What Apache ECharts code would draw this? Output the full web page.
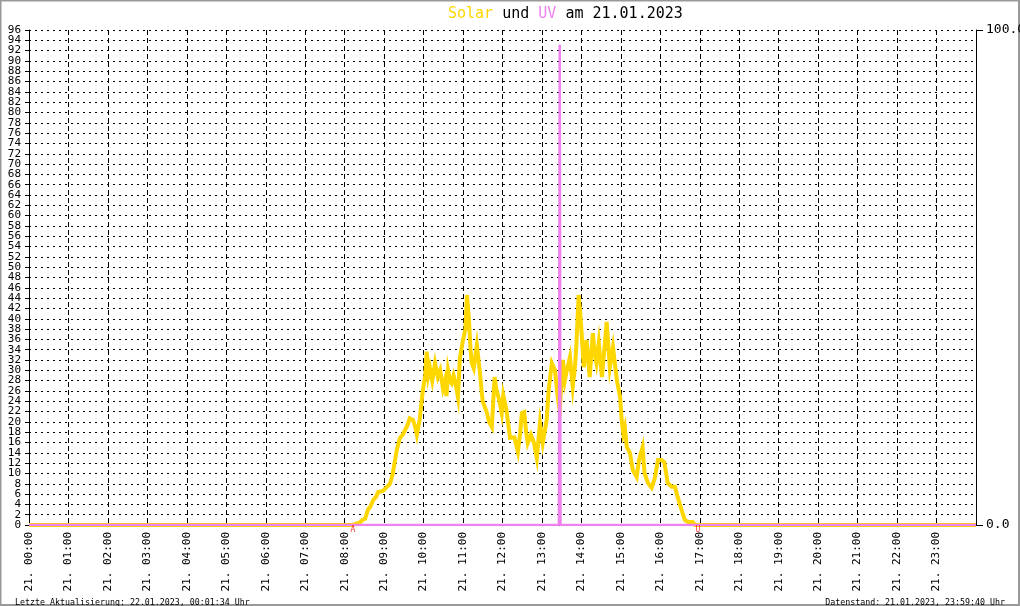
<!DOCTYPE html>
<html>
<head>
<meta charset="utf-8">
<script src="https://cdn.jsdelivr.net/npm/echarts@6/dist/echarts.min.js"></script>
<style>
html,body{margin:0;padding:0;background:#fff;}
#c{width:1020px;height:606px;}
</style>
</head>
<body>
<div id="c"></div>
<script>
// ---- data (hours of 21.01.2023, values) ----
const solarHours = [0, 8.2, 8.39, 8.45, 8.52, 8.59, 8.65, 8.72, 8.8, 8.85, 8.97, 9.07, 9.15, 9.22, 9.32, 9.4, 9.47, 9.53, 9.6, 9.65, 9.73, 9.79, 9.83, 9.9, 9.98,
  10.04, 10.08, 10.12, 10.16, 10.22, 10.29, 10.36, 10.42, 10.49, 10.54, 10.58, 10.62, 10.67, 10.71, 10.76, 10.82, 10.87, 10.92,
  11.0, 11.06, 11.1, 11.15, 11.19, 11.22, 11.27, 11.35, 11.43, 11.47, 11.5, 11.6, 11.66, 11.73, 11.8, 11.85, 11.9, 11.98,
  12.02, 12.1, 12.19, 12.3, 12.35, 12.39, 12.45, 12.49, 12.55, 12.6, 12.64, 12.72, 12.8, 12.87, 12.95,
  13.02, 13.12, 13.17, 13.25, 13.33, 13.4, 13.45, 13.5, 13.53, 13.58, 13.63, 13.71, 13.78, 13.84, 13.87, 13.93, 13.97,
  14.0, 14.06, 14.13, 14.21, 14.29, 14.34, 14.38, 14.44, 14.52, 14.58, 14.64, 14.72, 14.8, 14.9, 14.98,
  15.02, 15.06, 15.1, 15.15, 15.23, 15.3, 15.4, 15.46, 15.55, 15.6, 15.69, 15.78, 15.86, 15.94,
  16.03, 16.1, 16.19, 16.29, 16.37, 16.44, 16.54, 16.62, 16.7, 16.82, 16.88, 24];
const solarValues = [0, 0, 0.5, 1, 1.2, 3, 3.5, 4.8, 5.5, 6.4, 6.6, 7.4, 8, 10, 14.5, 16.9, 17.5, 18.4, 19.5, 20.7, 20.4, 19, 17.5, 20.4, 26,
  29, 33.6, 29, 30.5, 28, 31.4, 28.7, 30, 26.5, 28, 25, 30, 28, 27.5, 29, 27, 24.8, 32.4,
  35.9, 38, 44.6, 39.8, 34, 31.4, 30.4, 34.9, 29.5, 26, 23.9, 21.9, 20, 19, 28.7, 26, 24.8, 21.7,
  25.2, 22.3, 16.9, 17, 15.5, 14.2, 18, 21.7, 21.9, 18, 15.9, 17.5, 15.9, 13, 19.8,
  15.9, 20.4, 26.2, 31.4, 30, 24.8, 22.3, 22.3, 32, 28, 30, 32.6, 26.8, 31, 34.5, 44.6, 41,
  37.8, 30.6, 35.9, 28.7, 37.2, 33, 31.4, 35.3, 28.7, 34, 39.4, 30.6, 34.5, 28, 24.8,
  20.4, 17.8, 19, 15.1, 14, 10.7, 9.3, 12.6, 15.1, 10, 8.1, 7.2, 9.1, 12.6,
  12.6, 12.2, 8.1, 7.4, 7.4, 5.4, 2.9, 1, 0.6, 0.6, 0, 0];
const uvHours = [0, 13.43, 13.45, 13.47, 24];
const uvValues = [0, 0, 97, 0, 0];
const sunHours = [8.21, 16.95];
const sunLabels = ['A', 'U'];
const leftTicks = {min: 0, max: 96, step: 2};
const rightTicks = {min: 0, max: 100, step: 100};
const dayPrefix = '21. ';
const titleDate = '21.01.2023';
const footerLeft = 'Letzte Aktualisierung: 22.01.2023, 00:01:34 Uhr';
const footerRight = 'Datenstand: 21.01.2023, 23:59:40 Uhr';

const MONO = '"DejaVu Sans Mono", monospace';
const solarData = solarHours.map((h, i) => [h, solarValues[i]]);
const uvData = uvHours.map((h, i) => [h, uvValues[i]]);
const sunData = sunHours.map((h, i) => ({value: [h, 0], name: sunLabels[i]}));

const leftLabel = {margin: 8, fontFamily: MONO, fontSize: 11, color: '#000'};

const chart = echarts.init(document.getElementById('c'), null, {renderer: 'canvas'});
chart.setOption({
  animation: false,
  backgroundColor: '#fff',
  title: [{
    text: '{s|Solar} {b|und} {u|UV} {b|am ' + titleDate + '}',
    left: 443, top: 2,
    textStyle: {
      fontFamily: MONO, fontSize: 15, fontWeight: 'normal',
      rich: {
        s: {color: '#FFD700', fontFamily: MONO, fontSize: 15},
        u: {color: '#EE82EE', fontFamily: MONO, fontSize: 15},
        b: {color: '#000', fontFamily: MONO, fontSize: 15}
      }
    }
  }, {
    text: footerLeft, left: 10, top: 594,
    textStyle: {fontFamily: MONO, fontSize: 8.3, fontWeight: 'normal', color: '#000'}
  }, {
    text: footerRight, right: 10, top: 594,
    textStyle: {fontFamily: MONO, fontSize: 8.3, fontWeight: 'normal', color: '#000'}
  }],
  graphic: [{
    type: 'rect', silent: true,
    shape: {x: 0.5, y: 0.5, width: 1018.5, height: 604.5},
    style: {fill: 'none', stroke: '#999', lineWidth: 2}
  }],
  grid: {left: 29, right: 44, top: 30, bottom: 81, containLabel: false, outerBoundsMode: 'none'},
  xAxis: {
    type: 'value', min: 0, max: 24, interval: 1,
    axisLine: {show: true, lineStyle: {color: '#000', width: 1}},
    axisTick: {show: false},
    axisLabel: {
      rotate: 90, margin: 7, fontFamily: MONO, fontSize: 11, color: '#000',
      showMinLabel: true, hideOverlap: false,
      formatter: v => v >= 24 ? '' : dayPrefix + String(v).padStart(2, '0') + ':00'
    },
    splitLine: {show: true, lineStyle: {color: '#000', type: [5, 3], width: 1}}
  },
  yAxis: [{
    // inner labels 2..94
    type: 'value', min: leftTicks.min, max: leftTicks.max, interval: leftTicks.step,
    axisLine: {show: true, lineStyle: {color: '#000'}},
    axisTick: {show: true, length: 4, lineStyle: {color: '#000'}},
    axisLabel: Object.assign({showMinLabel: false, showMaxLabel: false}, leftLabel),
    splitLine: {show: true, lineStyle: {color: '#000', type: [2, 4], width: 1}}
  }, {
    type: 'value', position: 'right', min: rightTicks.min, max: rightTicks.max, interval: rightTicks.step,
    axisLine: {show: true, lineStyle: {color: '#000'}},
    axisTick: {show: true, length: 7, lineStyle: {color: '#000'}},
    axisLabel: {margin: 10, fontFamily: MONO, fontSize: 13, color: '#000', formatter: v => v.toFixed(1),
      showMinLabel: true, showMaxLabel: true},
    splitLine: {show: false}
  }, {
    // end labels 0 and 96 of the left scale
    type: 'value', position: 'left', offset: 0,
    min: leftTicks.min, max: leftTicks.max, interval: leftTicks.max - leftTicks.min,
    axisLine: {show: false},
    axisTick: {show: true, length: 4, lineStyle: {color: '#000'}},
    axisLabel: Object.assign({showMinLabel: true, showMaxLabel: true}, leftLabel),
    splitLine: {show: false}
  }],
  series: [{
    name: 'Solar', type: 'line', data: solarData, yAxisIndex: 0,
    showSymbol: false, symbol: 'none', clip: false,
    lineStyle: {color: '#FFD700', width: 4, join: 'miter'},
    z: 3
  }, {
    name: 'UV', type: 'line', data: uvData, yAxisIndex: 1,
    showSymbol: false, symbol: 'none',
    lineStyle: {color: '#EE82EE', width: 2.5},
    z: 4
  }, {
    name: 'Sonne', type: 'scatter', data: sunData, yAxisIndex: 0,
    symbolSize: 0.1, silent: true,
    label: {show: true, position: 'bottom', distance: 1, formatter: p => p.name,
      color: '#f00', fontFamily: MONO, fontSize: 8},
    z: 5
  }]
});
</script>
</body>
</html>
